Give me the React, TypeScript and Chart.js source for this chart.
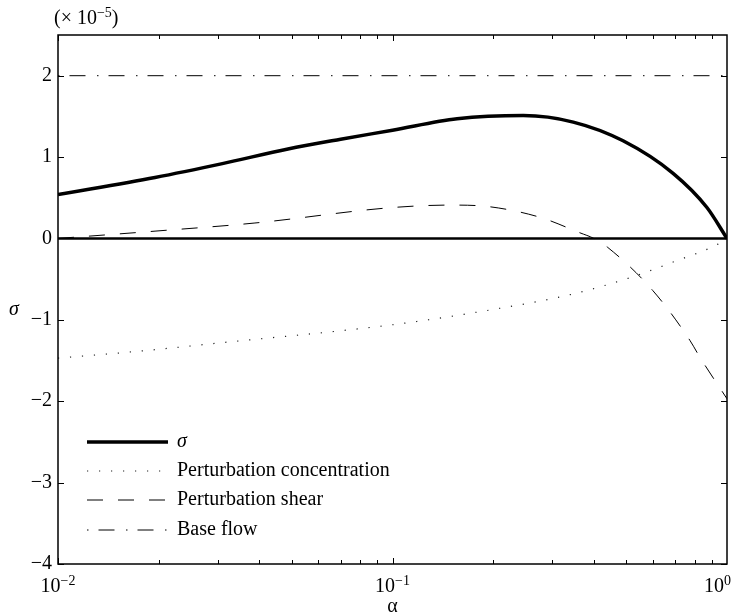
import React, { useEffect, useRef } from "react";
import { Chart, registerables } from "chart.js";

Chart.register(...registerables);

const SERIF = '"Liberation Serif", "Times New Roman", "DejaVu Serif", serif';

// σ (total growth rate)
const sigmaAlpha = [0.01, 0.0195, 0.031, 0.0487, 0.07, 0.1, 0.156, 0.246, 0.347, 0.489, 0.69, 0.871, 1.0];
const sigmaValues = [0.54, 0.75, 0.92, 1.1, 1.22, 1.33, 1.47, 1.51, 1.43, 1.2, 0.8, 0.38, 0.0];

// perturbation concentration
const concAlpha = [0.01, 0.018, 0.031, 0.1, 0.195, 0.34, 0.506, 0.69, 0.94, 1.0];
const concValues = [-1.47, -1.38, -1.28, -1.06, -0.88, -0.69, -0.49, -0.29, -0.07, 0.0];

// perturbation shear
const shearAlpha = [0.01, 0.0195, 0.0388, 0.1, 0.149, 0.195, 0.276, 0.363, 0.4, 0.44, 0.6, 0.774, 0.83, 1.0];
const shearValues = [0.0, 0.09, 0.19, 0.38, 0.41, 0.39, 0.26, 0.07, 0.0, -0.11, -0.64, -1.25, -1.46, -1.97];

// base flow
const baseAlpha = [0.01, 1.0];
const baseValues = [2.0, 2.0];

// zero reference line
const zeroAlpha = [0.01, 1.0];
const zeroValues = [0, 0];

const yTicks = [-4, -3, -2, -1, 0, 1, 2];
const xMajorTicks = [0.01, 0.1, 1];
const xTickExponents = ["\u22122", "\u22121", "0"];
const seriesLabels = ["σ", "Perturbation concentration", "Perturbation shear", "Base flow"];
const scaleNote = { open: "(\u00d7 10", exp: "\u22125", close: ")" };
const xTitle = "α";
const yTitle = "σ";

const pts = (xs: number[], ys: number[]) => xs.map((x, i) => ({ x, y: ys[i] }));
const fmt = (v: number) => (v < 0 ? "\u2212" + Math.abs(v) : String(v));

const decor = {
  id: "decor",
  afterDatasetsDraw(chart: any) {
    const { ctx, chartArea: a, scales } = chart;
    const x = scales.x;
    const y = scales.y;
    ctx.save();
    ctx.strokeStyle = "#000";
    ctx.fillStyle = "#000";
    ctx.setLineDash([]);

    // inward ticks
    ctx.lineWidth = 1;
    ctx.beginPath();
    for (const v of yTicks) {
      const py = Math.round(y.getPixelForValue(v)) + 0.5;
      ctx.moveTo(a.left, py);
      ctx.lineTo(a.left + 6, py);
      ctx.moveTo(a.right, py);
      ctx.lineTo(a.right - 6, py);
    }
    for (const d of [0.01, 0.1]) {
      for (let k = 1; k <= 9; k++) {
        const v = d * k;
        const px = Math.round(x.getPixelForValue(v)) + 0.5;
        const len = k === 1 ? 6 : 4;
        ctx.moveTo(px, a.bottom);
        ctx.lineTo(px, a.bottom - len);
        ctx.moveTo(px, a.top);
        ctx.lineTo(px, a.top + len);
      }
    }
    ctx.stroke();

    // box
    ctx.lineWidth = 1.5;
    ctx.strokeRect(a.left, a.top, a.right - a.left, a.bottom - a.top);

    // x tick labels 10^n
    ctx.textBaseline = "alphabetic";
    ctx.textAlign = "left";
    xMajorTicks.forEach((v, i) => {
      const px = x.getPixelForValue(v);
      ctx.font = `20px ${SERIF}`;
      const wb = ctx.measureText("10").width;
      ctx.font = `14px ${SERIF}`;
      const we = ctx.measureText(xTickExponents[i]).width;
      let start = px - (wb + we) / 2;
      if (start + wb + we > 731) start = 731 - wb - we;
      ctx.font = `20px ${SERIF}`;
      ctx.fillText("10", start, a.bottom + 28);
      ctx.font = `14px ${SERIF}`;
      ctx.fillText(xTickExponents[i], start + wb, a.bottom + 21);
    });

    // scale note (×10^-5)
    let sx = a.left - 4;
    ctx.font = `20px ${SERIF}`;
    ctx.fillText(scaleNote.open, sx, a.top - 11);
    sx += ctx.measureText(scaleNote.open).width;
    ctx.font = `14px ${SERIF}`;
    ctx.fillText(scaleNote.exp, sx, a.top - 18);
    sx += ctx.measureText(scaleNote.exp).width;
    ctx.font = `20px ${SERIF}`;
    ctx.fillText(scaleNote.close, sx, a.top - 11);

    // y title
    ctx.font = `italic 20px ${SERIF}`;
    ctx.fillText(yTitle, 9, 315);

    // legend
    const rows = [122, 93, 64, 34];
    chart.data.datasets.forEach((ds: any, i: number) => {
      if (i >= seriesLabels.length) return;
      const ry = a.bottom - rows[i];
      ctx.beginPath();
      ctx.strokeStyle = ds.borderColor;
      ctx.lineWidth = ds.borderWidth;
      ctx.setLineDash(ds.borderDash || []);
      ctx.lineDashOffset = 0;
      ctx.moveTo(a.left + 29, ry);
      ctx.lineTo(a.left + 110, ry);
      ctx.stroke();
      ctx.setLineDash([]);
      ctx.fillStyle = "#000";
      ctx.textBaseline = "middle";
      ctx.font = i === 0 ? `italic 20px ${SERIF}` : `20px ${SERIF}`;
      ctx.fillText(seriesLabels[i], a.left + 119, ry);
    });
    ctx.restore();
  },
};

export default function App() {
  const ref = useRef<HTMLCanvasElement | null>(null);
  useEffect(() => {
    if (!ref.current) return;
    const chart = new Chart(ref.current, {
      type: "line",
      data: {
        datasets: [
          {
            label: seriesLabels[0],
            data: pts(sigmaAlpha, sigmaValues),
            borderColor: "#000",
            borderWidth: 3.5,
            borderDash: [],
            pointRadius: 0,
            cubicInterpolationMode: "monotone",
          },
          {
            label: seriesLabels[1],
            data: pts(concAlpha, concValues),
            borderColor: "#222",
            borderWidth: 1.2,
            borderDash: [1.2, 10.8],
            pointRadius: 0,
            cubicInterpolationMode: "monotone",
          },
          {
            label: seriesLabels[2],
            data: pts(shearAlpha, shearValues),
            borderColor: "#000",
            borderWidth: 1,
            borderDash: [16, 15],
            pointRadius: 0,
            cubicInterpolationMode: "monotone",
          },
          {
            label: seriesLabels[3],
            data: pts(baseAlpha, baseValues),
            borderColor: "#000",
            borderWidth: 1,
            borderDash: [1.5, 10, 16, 11.5],
            pointRadius: 0,
          },
          {
            label: "zero",
            data: pts(zeroAlpha, zeroValues),
            borderColor: "#000",
            borderWidth: 2.5,
            pointRadius: 0,
          },
        ],
      } as any,
      options: {
        animation: false,
        responsive: false,
        maintainAspectRatio: false,
        layout: { padding: { left: 0, top: 35, right: 6, bottom: 0 } },
        plugins: { legend: { display: false }, tooltip: { enabled: false } },
        scales: {
          x: {
            type: "logarithmic",
            min: 0.01,
            max: 1,
            grid: { display: false, drawTicks: false },
            border: { display: false },
            ticks: { display: false },
            title: {
              display: true,
              text: xTitle,
              color: "#000",
              font: { family: SERIF, size: 20, lineHeight: 0.8 },
              padding: { top: 0, bottom: 0 },
            },
            afterFit: (s: any) => {
              s.height = 51;
            },
          },
          y: {
            type: "linear",
            min: -4,
            max: 2.5,
            afterBuildTicks: (s: any) => {
              s.ticks = yTicks.map((v) => ({ value: v }));
            },
            grid: { display: false, drawTicks: false },
            border: { display: false },
            ticks: {
              color: "#000",
              padding: 6,
              font: { family: SERIF, size: 20 },
              callback: (v: any) => fmt(Number(v)),
            },
            afterFit: (s: any) => {
              s.width = 58;
            },
          },
        },
      } as any,
      plugins: [decor],
    });
    return () => chart.destroy();
  }, []);
  return (
    <div style={{ position: "absolute", left: 0, top: 0, width: 733, height: 615, background: "#fff" }}>
      <canvas ref={ref} width={733} height={615} style={{ display: "block" }} />
    </div>
  );
}
